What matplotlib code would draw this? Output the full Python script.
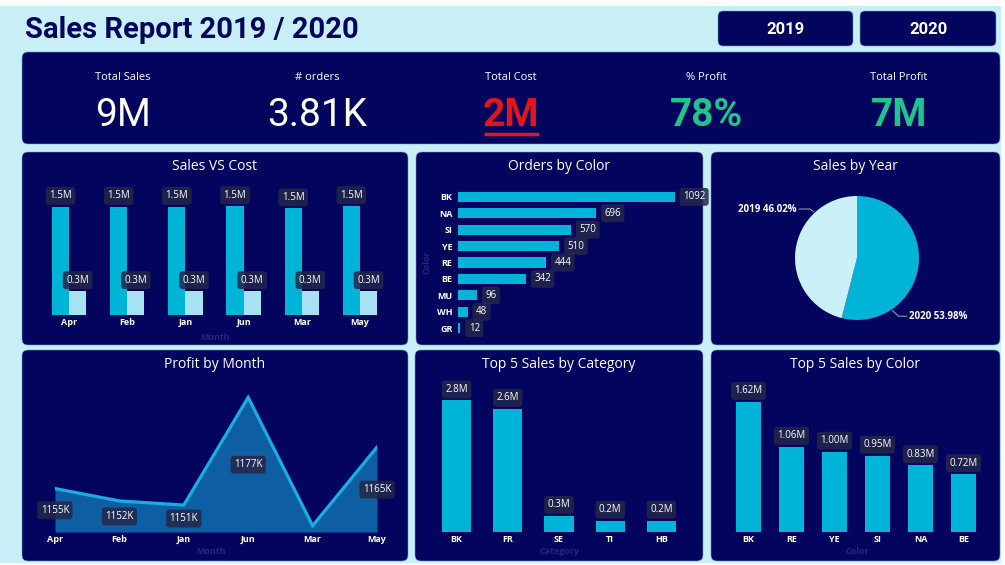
import matplotlib
matplotlib.use("Agg")
import matplotlib.pyplot as plt
from matplotlib.patches import FancyBboxPatch, Rectangle
import numpy as np

plt.rcParams['font.family'] = ['Open Sans', 'DejaVu Sans']

# ---- data ----
kpi_labels = ["Total Sales", "# orders", "Total Cost", "% Profit", "Total Profit"]
kpi_values = ["9M", "3.81K", "2M", "78%", "7M"]

months = ["Apr", "Feb", "Jan", "Jun", "Mar", "May"]
sales_m = [1.50, 1.50, 1.50, 1.51, 1.48, 1.51]
cost_m = [0.33, 0.33, 0.33, 0.33, 0.33, 0.33]
profit_k = [1155, 1152, 1151, 1177, 1146, 1165]

order_colors = ["BK", "NA", "SI", "YE", "RE", "BE", "MU", "WH", "GR"]
order_counts = [1092, 696, 570, 510, 444, 342, 96, 48, 12]

years = ["2019", "2020"]
year_share = [46.02, 53.98]

top_cats = ["BK", "FR", "SE", "TI", "HB"]
top_cat_sales = [2.80, 2.62, 0.34, 0.24, 0.24]

top_colors = ["BK", "RE", "YE", "SI", "NA", "BE"]
top_color_sales = [1.62, 1.06, 1.00, 0.95, 0.83, 0.72]

# ---- style ----
W, H = 1005, 565
NAVY = "#03045e"
BG = "#c9eff6"
CYAN = "#00b4d8"
LIGHT = "#a6e2f3"
PIE_LIGHT = "#caf0f8"
DIM = "#25257a"
LBL_BOX = dict(boxstyle="round,pad=0.35,rounding_size=0.3", fc="#25274a", ec="none", alpha=0.85)


def box(x0, y0, x1, y1):
    return [x0 / W, 1 - y1 / H, (x1 - x0) / W, (y1 - y0) / H]


def clean(ax):
    ax.set_facecolor("none")
    for s in ax.spines.values():
        s.set_visible(False)
    ax.tick_params(length=0)


def tick_style(ax, axis="x"):
    labels = ax.get_xticklabels() if axis == "x" else ax.get_yticklabels()
    for t in labels:
        t.set_color("white")
        t.set_fontweight("bold")
        t.set_fontsize(6.5)


fig = plt.figure(figsize=(W / 100, H / 100), dpi=100)
fig.patch.set_facecolor("white")

bg = fig.add_axes([0, 0, 1, 1])
bg.set_xlim(0, W)
bg.set_ylim(H, 0)
bg.axis("off")
bg.add_patch(Rectangle((0, 6), 1001, 557, fc=BG, ec="none"))


def panel(x0, y0, x1, y1, r=6):
    bg.add_patch(FancyBboxPatch((x0, y0), x1 - x0, y1 - y0,
                                boxstyle=f"round,pad=0,rounding_size={r}",
                                fc=NAVY, ec="#6c9ad6", lw=0.4))


# header
bg.text(25, 30, "Sales Report 2019 / 2020", fontsize=21, fontweight="bold",
        color=NAVY, va="center", ha="left", family="Roboto")
for (x0, x1), yr in zip([(718, 853), (860, 996)], years):
    panel(x0, 11, x1, 46, r=5)
    bg.text((x0 + x1) / 2, 30, yr, color="white", fontsize=12, fontweight="bold",
            ha="center", va="center", family="Roboto")

# KPI strip
panel(22, 52, 1000, 144)
kpi_x = [123, 317, 511, 706, 899]
kpi_col = ["white", "white", "#e3141b", "#1fc48d", "#1fc48d"]
kpi_w = ["normal", "normal", "bold", "bold", "bold"]
for x, lab, val, c, w in zip(kpi_x, kpi_labels, kpi_values, kpi_col, kpi_w):
    bg.text(x, 77, lab, color="white", fontsize=8, ha="center", va="center")
    bg.text(x, 115, val, color=c, fontsize=28, fontweight=w, ha="center",
            va="center", family="Roboto")
bg.plot([484, 539], [134, 134], color="#e3141b", lw=2.5, solid_capstyle="butt")

# panels
panels = [(22, 152, 408, 345, "Sales VS Cost"),
          (416, 152, 703, 345, "Orders by Color"),
          (711, 152, 1000, 345, "Sales by Year"),
          (22, 350, 408, 561, "Profit by Month"),
          (415, 350, 703, 561, "Top 5 Sales by Category"),
          (711, 350, 1000, 561, "Top 5 Sales by Color")]
for x0, y0, x1, y1, t in panels:
    panel(x0, y0, x1, y1)
    bg.text((x0 + x1) / 2, y0 + 14, t, color="white", fontsize=10,
            ha="center", va="center")

# axis titles (dim)
bg.text(215, 337, "Month", color=DIM, fontsize=6.5, ha="center", va="center", fontweight="bold")
bg.text(211, 552, "Month", color=DIM, fontsize=6.5, ha="center", va="center", fontweight="bold")
bg.text(560, 552, "Category", color=DIM, fontsize=6.5, ha="center", va="center", fontweight="bold")
bg.text(857, 552, "Color", color=DIM, fontsize=6.5, ha="center", va="center", fontweight="bold")
bg.text(427, 262, "Color", color=DIM, fontsize=6.5, ha="center", va="center",
        rotation=90, fontweight="bold")


def label(ax, x, y, s, dy=8):
    ax.annotate(s, (x, y), xytext=(0, dy), textcoords="offset points",
                ha="center", va="center", color="white", fontsize=7, bbox=LBL_BOX)


# Sales VS Cost
ax = fig.add_axes(box(40, 190, 389, 315))
clean(ax)
x = np.arange(len(months))
bw = 0.295
ax.bar(x - bw / 2, sales_m, bw, color=CYAN)
ax.bar(x + bw / 2, cost_m, bw, color=LIGHT)
for i in range(len(months)):
    label(ax, x[i] - bw / 2, sales_m[i], f"{sales_m[i]:.1f}M")
    label(ax, x[i] + bw / 2, cost_m[i], f"{cost_m[i]:.1f}M")
ax.set_xlim(-0.5, len(months) - 0.5)
ax.set_ylim(0, 1.736)
ax.set_xticks(x, months)
ax.set_yticks([])
ax.tick_params(axis="x", pad=2)
tick_style(ax)

# Orders by Color
ax = fig.add_axes(box(458, 187, 696, 338))
clean(ax)
y = np.arange(len(order_colors))
ax.barh(y, order_counts, 0.61, color=CYAN)
for i, v in enumerate(order_counts):
    ax.annotate(str(v), (v, y[i]), xytext=(6, 0), textcoords="offset points",
                ha="left", va="center", color="white", fontsize=7, bbox=LBL_BOX)
ax.set_xlim(0, 1200)
ax.set_ylim(len(order_colors) - 0.4, -0.6)
ax.set_yticks(y, order_colors)
ax.set_xticks([])
ax.tick_params(axis="y", pad=4)
tick_style(ax, "y")

# Sales by Year
ax = fig.add_axes(box(795, 196, 919, 320))
ax.axis("off")
ax.pie(year_share[::-1], colors=[CYAN, PIE_LIGHT], startangle=90,
       counterclock=False, radius=1)
ax.set_xlim(-1, 1)
ax.set_ylim(-1, 1)
ax.set_aspect("equal")
# leader lines: from the rim out to the label
for ang, knee, end, txt, ha in [
        (133, (-0.76, 0.79), (-0.93, 0.79), f"{years[0]} {year_share[0]:.2f}%", "right"),
        (-56, (0.67, -0.94), (0.80, -0.94), f"{years[1]} {year_share[1]:.2f}%", "left")]:
    a = np.deg2rad(ang)
    rim = (np.cos(a) * 1.02, np.sin(a) * 1.02)
    ax.plot([rim[0], knee[0], end[0]], [rim[1], knee[1], end[1]],
            color="#8c92b8", lw=0.8, clip_on=False)
    dx = -0.04 if ha == "right" else 0.04
    ax.text(end[0] + dx, end[1], txt, ha=ha, va="center", color="white",
            fontsize=7, fontweight="bold", clip_on=False)

# Profit by Month
ax = fig.add_axes(box(55, 385, 377, 532))
clean(ax)
x = np.arange(len(months))
ymin = 1144.5
ax.fill_between(x, profit_k, ymin, color="#0d5ea3", lw=0)
ax.plot(x, profit_k, color="#18aee0", lw=2.3, solid_joinstyle="miter")
for i, v in enumerate(profit_k):
    if months[i] == "Mar":
        continue
    ax.text(x[i], (v + ymin) / 2, f"{v}K", ha="center", va="center",
            color="white", fontsize=7, bbox=LBL_BOX)
ax.set_xlim(0, len(months) - 1)
ax.set_ylim(ymin, 1180)
ax.set_xticks(x, months)
ax.set_yticks([])
ax.tick_params(axis="x", pad=2)
tick_style(ax)

# Top 5 Sales by Category
ax = fig.add_axes(box(431, 385, 687, 532))
clean(ax)
x = np.arange(len(top_cats))
ax.bar(x, top_cat_sales, 0.57, color=CYAN)
for i, v in enumerate(top_cat_sales):
    label(ax, x[i], v, f"{v:.1f}M")
ax.set_xlim(-0.5, len(top_cats) - 0.5)
ax.set_ylim(0, 3.13)
ax.set_xticks(x, top_cats)
ax.set_yticks([])
ax.tick_params(axis="x", pad=2)
tick_style(ax)

# Top 5 Sales by Color
ax = fig.add_axes(box(727, 385, 985, 532))
clean(ax)
x = np.arange(len(top_colors))
ax.bar(x, top_color_sales, 0.58, color=CYAN)
for i, v in enumerate(top_color_sales):
    label(ax, x[i], v, f"{v:.2f}M")
ax.set_xlim(-0.5, len(top_colors) - 0.5)
ax.set_ylim(0, 1.833)
ax.set_xticks(x, top_colors)
ax.set_yticks([])
ax.tick_params(axis="x", pad=2)
tick_style(ax)

fig.savefig("out.png", dpi=100, facecolor=fig.get_facecolor())
